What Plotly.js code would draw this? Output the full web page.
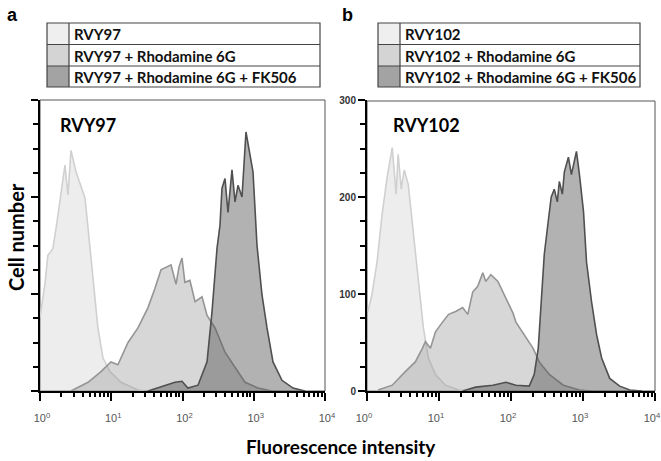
<!DOCTYPE html>
<html>
<head>
<meta charset="utf-8">
<script src="https://cdn.plot.ly/plotly-3.0.1.min.js"></script>
<style>
  html, body { margin: 0; padding: 0; background: #fff; }
  #chart { width: 661px; height: 461px; }
</style>
</head>
<body>
<div id="chart"></div>
<script>
// fluorescence (x, log axis) and cell counts (y)
const aBaseX = [1.0, 1.18, 1.29, 1.52, 1.73, 1.97, 2.24, 2.47, 2.72, 3.2, 3.64, 4.28, 4.72, 5.55, 6.5, 7.66, 9.6, 13.7, 23.7, 29.6];
const aBaseY = [76, 112, 140, 147, 174, 205, 233, 202, 248, 226, 214, 199, 168, 112, 65, 34, 20, 9, 1, 0];
const aRhoX = [2.72, 4.72, 7.18, 9.9, 12.4, 17.2, 23.7, 32.8, 41.1, 49.9, 69, 81.1, 89.4, 98.4, 108, 127, 150, 188, 221, 286, 395, 546, 754, 1148, 1805];
const aRhoY = [0, 9, 20, 30, 27, 50, 65, 86, 106, 125, 130, 110, 128, 137, 112, 114, 92, 97, 78, 65, 40, 24, 9, 3, 0];
const aFkX = [32.8, 56.8, 78.5, 98.4, 119, 165, 221, 259, 305, 336, 358, 395, 435, 495, 546, 601, 684, 778, 886, 976, 1111, 1306, 1535, 1862, 2490, 3556, 5236];
const aFkY = [0, 6, 9, 10, 3, 6, 30, 81, 147, 171, 209, 219, 184, 228, 195, 212, 200, 267, 243, 226, 150, 99, 65, 30, 11, 3, 0];

const bBaseX = [1.03, 1.17, 1.38, 1.62, 1.9, 2.24, 2.54, 2.71, 2.99, 3.29, 3.74, 4.4, 5.17, 6.07, 7.13, 8.93, 12.3, 18.7, 27.6];
const bBaseY = [82, 99, 133, 182, 220, 251, 203, 244, 208, 228, 213, 161, 113, 65, 34, 17, 6, 1, 0];
const bRhoX = [1.43, 2.24, 3.4, 4.69, 5.88, 6.47, 7.6, 8.93, 11.2, 13.6, 17, 21.3, 25.1, 29.4, 34.5, 40.6, 44.7, 52.5, 65.8, 85.1, 107, 117, 162, 203, 247, 340, 533, 893, 1315];
const bRhoY = [1, 6, 20, 30, 44, 51, 44, 61, 71, 79, 82, 86, 79, 102, 108, 122, 113, 120, 113, 96, 80, 71, 55, 44, 30, 17, 6, 1, 0];
const bFkX = [21.3, 32.4, 56, 85.1, 117, 179, 210, 239, 263, 290, 329, 362, 399, 440, 469, 517, 551, 627, 690, 811, 893, 1016, 1119, 1315, 1545, 1815, 2349, 3236, 4467, 6577];
const bFkY = [0, 4, 6, 9, 6, 5, 17, 44, 92, 141, 175, 200, 208, 195, 216, 203, 226, 241, 223, 247, 223, 185, 133, 92, 58, 34, 13, 5, 1, 0];

const xTickVals = [1, 10, 100, 1000, 10000];
const xTickText = ['10<sup>0</sup>', '10<sup>1</sup>', '10<sup>2</sup>', '10<sup>3</sup>', '10<sup>4</sup>'];
const yTickVals = [0, 100, 200, 300];

const legendA = ['RVY97', 'RVY97 + Rhodamine 6G', 'RVY97 + Rhodamine 6G + FK506'];
const legendB = ['RVY102', 'RVY102 + Rhodamine 6G', 'RVY102 + Rhodamine 6G + FK506'];

const W = 661, H = 461;
const FONT = 'Lato, "Open Sans", sans-serif';
const px = v => v / W;
const py = v => 1 - v / H;

const styles = [
  { fill: 'rgba(205,205,205,0.36)', line: '#d0d0d0', swatch: '#efefef' },
  { fill: 'rgba(150,150,150,0.38)', line: '#959595', swatch: '#d4d4d4' },
  { fill: 'rgba(80,80,80,0.44)',   line: '#505050', swatch: '#a3a3a3' }
];

function hist(x, y, k, ax) {
  return {
    x: x, y: y, type: 'scatter', mode: 'lines', fill: 'tozeroy',
    fillcolor: styles[k].fill,
    line: { color: styles[k].line, width: 1.6 },
    xaxis: ax === 1 ? 'x' : 'x2', yaxis: ax === 1 ? 'y' : 'y2',
    hoverinfo: 'skip', showlegend: false
  };
}

const data = [
  hist(aBaseX, aBaseY, 0, 1), hist(aRhoX, aRhoY, 1, 1), hist(aFkX, aFkY, 2, 1),
  hist(bBaseX, bBaseY, 0, 2), hist(bRhoX, bRhoY, 1, 2), hist(bFkX, bFkY, 2, 2)
];

function xAxis(dom, anchor, shift) {
  return {
    type: 'log', domain: dom, anchor: anchor, range: [0, 4],
    tickmode: 'array', tickvals: xTickVals, ticktext: xTickText,
    ticks: 'outside', ticklen: 8, tickwidth: 2, tickcolor: '#000',
    minor: { dtick: 'D1', ticks: 'outside', ticklen: 4 },
    showline: true, linecolor: '#000', linewidth: 2,
    showgrid: false, zeroline: false,
    tickfont: { family: 'Arial, sans-serif', size: 11, color: '#555' },
    ticklabelstandoff: 8, ticklabelshift: shift, ticklabeloverflow: 'allow'
  };
}

// tick-only twin of a log axis, same domain and range
function tickAxis(dom, anchor, over) {
  return {
    type: 'log', domain: dom, anchor: anchor, overlaying: over, range: [0, 4],
    tickmode: 'array', tickvals: xTickVals, showticklabels: false,
    ticks: 'outside', ticklen: 8, tickwidth: 2, tickcolor: '#000',
    minor: { ticks: 'outside', dtick: 'D1', ticklen: 4 },
    showgrid: false, zeroline: false
  };
}

function yAxis(dom, anchor, labels) {
  return {
    domain: dom, anchor: anchor, range: [0, 300],
    tickmode: 'array', tickvals: yTickVals,
    ticks: 'outside', ticklen: 7, tickwidth: 2, tickcolor: '#000',
    minor: { dtick: 25, ticks: 'outside', ticklen: 5 },
    showline: true, linecolor: '#000', linewidth: 2,
    showgrid: false, zeroline: false,
    showticklabels: labels,
    tickfont: { family: 'Arial, sans-serif', size: 10, color: '#333', weight: 'bold' }
  };
}

const yDom = [py(391), py(100)];
const domA = [px(40), px(325)];
const domB = [px(367), px(655)];

const shapes = [];
const annotations = [];

// thin frame on the top and right of each plot box
shapes.push({ type: 'rect', xref: 'paper', yref: 'paper', x0: px(40), x1: px(325), y0: py(391), y1: py(100), layer: 'below', line: { color: '#555', width: 1 } });
shapes.push({ type: 'rect', xref: 'paper', yref: 'paper', x0: px(367), x1: px(655), y0: py(391), y1: py(101), layer: 'below', line: { color: '#555', width: 1 } });

function legendTable(x0, x1, sw, labels) {
  const rows = [23, 44.5, 66, 87];
  labels.forEach((t, i) => {
    shapes.push({
      type: 'rect', xref: 'paper', yref: 'paper',
      x0: px(x0), x1: px(sw), y0: py(rows[i + 1]), y1: py(rows[i]),
      fillcolor: styles[i].swatch, line: { width: 0 }
    });
    annotations.push({
      xref: 'paper', yref: 'paper', x: px(sw + 3), y: py((rows[i] + rows[i + 1]) / 2 + 0.5),
      xanchor: 'left', yanchor: 'middle', showarrow: false, text: t,
      font: { family: FONT, size: 15, color: '#111', weight: 'bold' }
    });
  });
  shapes.push({ type: 'rect', xref: 'paper', yref: 'paper', x0: px(x0), x1: px(x1), y0: py(87), y1: py(23), line: { color: '#444', width: 1.2 } });
  shapes.push({ type: 'line', xref: 'paper', yref: 'paper', x0: px(sw), x1: px(sw), y0: py(87), y1: py(23), line: { color: '#444', width: 1.2 } });
  [44.5, 66].forEach(r => shapes.push({ type: 'line', xref: 'paper', yref: 'paper', x0: px(x0), x1: px(x1), y0: py(r), y1: py(r), line: { color: '#444', width: 1.2 } }));
}

legendTable(47, 320, 69, legendA);
legendTable(378, 640, 400, legendB);

annotations.push(
  { xref: 'paper', yref: 'paper', x: px(12), y: py(15), text: 'a', showarrow: false, xanchor: 'center', yanchor: 'middle', font: { family: 'Arial, sans-serif', size: 18, color: '#000', weight: 'bold' } },
  { xref: 'paper', yref: 'paper', x: px(347), y: py(15), text: 'b', showarrow: false, xanchor: 'center', yanchor: 'middle', font: { family: 'Arial, sans-serif', size: 18, color: '#000', weight: 'bold' } },
  { xref: 'paper', yref: 'paper', x: px(58), y: py(125), text: 'RVY97', showarrow: false, xanchor: 'left', yanchor: 'middle', font: { family: FONT, size: 18, color: '#000', weight: 'bold' } },
  { xref: 'paper', yref: 'paper', x: px(391), y: py(125), text: 'RVY102', showarrow: false, xanchor: 'left', yanchor: 'middle', font: { family: FONT, size: 18, color: '#000', weight: 'bold' } },
  { xref: 'paper', yref: 'paper', x: px(16), y: py(237), text: 'Cell number', textangle: -90, showarrow: false, xanchor: 'center', yanchor: 'middle', font: { family: FONT, size: 20, color: '#000', weight: 'bold' } },
  { xref: 'paper', yref: 'paper', x: px(341), y: py(446), text: 'Fluorescence intensity', showarrow: false, xanchor: 'center', yanchor: 'middle', font: { family: FONT, size: 19, color: '#000', weight: 'bold' } }
);

const layout = {
  width: W, height: H,
  margin: { l: 0, r: 0, t: 0, b: 0 },
  paper_bgcolor: '#fff', plot_bgcolor: '#fff',
  showlegend: false,
  xaxis: xAxis(domA, 'y', 2),
  yaxis: yAxis(yDom, 'x', false),
  xaxis2: xAxis(domB, 'y2', -3),
  yaxis2: yAxis(yDom, 'x2', true),
  xaxis3: tickAxis(domA, 'y', 'x'),
  xaxis4: tickAxis(domB, 'y2', 'x2'),
  shapes: shapes,
  annotations: annotations
};

Plotly.newPlot('chart', data, layout, { displayModeBar: false });
</script>
</body>
</html>
